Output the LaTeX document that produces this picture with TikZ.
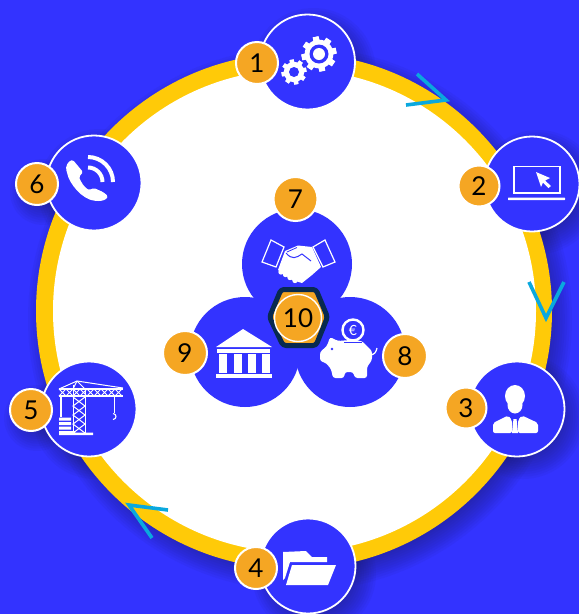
\documentclass[tikz,border=0pt]{standalone}
\usepackage{fontspec}
\setmainfont{Lato}
\definecolor{bgblue}{RGB}{51,51,255}
\definecolor{ringy}{RGB}{255,202,8}
\definecolor{badgeo}{RGB}{245,166,35}
\definecolor{navy}{RGB}{8,42,80}
\definecolor{chev}{RGB}{10,168,222}
\definecolor{shad}{RGB}{25,25,90}
\tikzset{
  bigdisc/.style={circle,fill=bgblue,draw=white,line width=1.8pt,minimum size=95pt,inner sep=0pt},
  middisc/.style={circle,fill=bgblue,minimum size=110pt,inner sep=0pt},
  badge/.style={circle,fill=badgeo,draw=white,line width=2pt,minimum size=42pt,inner sep=0pt,font=\fontsize{26}{26}\selectfont,text=black},
  chevron/.style={draw=chev,line width=3.6pt,line join=miter},
  icoline/.style={draw=white,line width=1.3pt},
}
\newcommand{\softshadow}[3]{%
  \foreach \k in {0,...,11}{\fill[shad,opacity=0.05] (#1+6,#2+8) circle ({#3+14-\k*2.4});}}
\newcommand{\geargfx}[4]{%
  \foreach \a in {0,45,...,315}{\fill[white,rotate around={\a+11:(#1,#2)}] (#1-#3*0.17,#2-#3) rectangle (#1+#3*0.17,#2+#3);}
  \fill[white] (#1,#2) circle ({#3*0.82});
  \fill[bgblue] (#1,#2) circle (#4);}
\begin{document}
\begin{tikzpicture}[x=1pt,y=-1pt]
\useasboundingbox (0,0) rectangle (579,614);
\clip (0,0) rectangle (579,614);
\fill[bgblue] (0,0) rectangle (579,614);
% shadows on the background
\softshadow{294}{311}{258}
\softshadow{307.5}{62}{48}
\softshadow{532}{184}{48}
\softshadow{517}{409}{48}
\softshadow{308}{566}{48}
\softshadow{89}{409}{48}
\softshadow{94}{183}{48}
\softshadow{31}{410}{19}
\softshadow{37}{184}{19}
% ring
\node[circle,fill=ringy,minimum size=516pt,inner sep=0pt] (ring) at (294,311) {};
\node[circle,fill=white,minimum size=483pt,inner sep=0pt] (inner) at (294.5,311) {};
% chevrons
\coordinate (c1a) at (417,74); \coordinate (c1b) at (446,100); \coordinate (c1c) at (406,105);
\coordinate (c2a) at (529,282); \coordinate (c2b) at (546,318); \coordinate (c2c) at (564,282);
\coordinate (c3a) at (168,510); \coordinate (c3b) at (129,505); \coordinate (c3c) at (152,538);
\draw[chevron] (c1a) -- (c1b) -- (c1c);
\draw[chevron] (c2a) -- (c2b) -- (c2c);
\draw[chevron] (c3a) -- (c3b) -- (c3c);
% big discs
\node[bigdisc] (d1) at (307.5,62) {};
\node[bigdisc] (d2) at (532,184) {};
\node[bigdisc] (d3) at (517,409) {};
\node[bigdisc] (d4) at (308,566) {};
\node[bigdisc] (d5) at (89,409) {};
\node[bigdisc] (d6) at (94,183) {};
% central discs
\node[middisc] (d7) at (297,264) {};
\node[middisc] (d9) at (245,352) {};
\node[middisc] (d8) at (350,352) {};
% gears
\geargfx{319}{54}{17.5}{9.5}
\fill[white] (319,54) circle (6);
\geargfx{294}{72}{12.5}{5}
% laptop
\draw[icoline] (514,166.5) rectangle (560,193);
\fill[white,rounded corners=0.5pt] (508,197.5) rectangle (565,200);
\fill[white] (536,172) -- (550,178) -- (545,180.5) -- (551,186) -- (548.5,188) -- (543,182.5) -- (541,187) -- cycle;
% person
\fill[white] (515,396) ellipse (10 and 11);
\fill[white] (515,405) ellipse (7.5 and 8.5);
\fill[white,rounded corners=2pt] (493,433) -- (493,423) -- (508,415.5) -- (512,420) -- (512,433) -- cycle;
\fill[white,rounded corners=2pt] (538,433) -- (538,423) -- (522,415.5) -- (518,420) -- (518,433) -- cycle;
\fill[white] (513.5,419) -- (516.5,419) -- (517,423) -- (518,433) -- (512,433) -- (513,423) -- cycle;
% folder
\fill[white] (283,580) -- (283,552) -- (306,551) -- (312,557) -- (327,557) -- (327,562) -- (290,562) -- (285,578) -- cycle;
\fill[white] (292,565) -- (336,565) -- (328,585) -- (286,585) -- cycle;
% crane
\draw[white,line width=1pt] (73,433) -- (73,385) (85,433) -- (85,389);
\draw[white,line width=1pt] (73,397) -- (85,406) -- (73,415) -- (85,424) -- (73,433) (85,397) -- (73,406) -- (85,415) -- (73,424) -- (85,433);
\draw[white,line width=1.1pt] (59,389) -- (123,389) (59,396) -- (123,396);
\foreach \q in {59,66,...,116}{\draw[white,line width=1pt] (\q,389) -- (\q+7,396) (\q+7,389) -- (\q,396);}
\draw[white,line width=1pt] (59,389) -- (77,381) -- (123,388);
\draw[white,line width=1pt] (77,381) -- (85,389) (77,381) -- (73,389);
\draw[white,line width=1.1pt] (61,396) -- (61,417);
\draw[white,line width=0.9pt] (114,396) -- (114,413);
\draw[white,line width=1.1pt] (113,413.5) .. controls (117,414) and (117,419) .. (113,419.5);
\fill[white] (59,417.5) rectangle (71,420.5) (59,422) rectangle (71,425) (59,426.5) rectangle (71,429.5);
\fill[white] (59,431) rectangle (75,435) (75,432.5) rectangle (93,435);
% phone
\fill[white,rounded corners=1.5pt] (73,160) .. controls (68,161) and (65,167) .. (67,172) .. controls (69,183) and (82,200) .. (97,201) .. controls (102,201) and (106,200) .. (108,196) -- (103,192) -- (94,188) -- (89,190) .. controls (84,187) and (81,182) .. (79,177) -- (83,172) -- cycle;
\draw[white,line width=4pt] (88,157) arc[start angle=-90,end angle=0,radius=25];
\draw[white,line width=4pt] (88,167.5) arc[start angle=-90,end angle=0,radius=14.5];
% handshake
\draw[white,line width=1.2pt] (271,240) -- (284,247) -- (276,267) -- (262,262) -- cycle;
\draw[white,line width=1.2pt] (325,240) -- (335,262) -- (323,267) -- (313,247) -- cycle;
\fill[white] (285,251) -- (298,245.5) -- (312,247) -- (321,267) -- (312,275) -- (302,283) -- (292,280) -- (278,270) -- cycle;
\foreach \fx/\fy in {281/272,285.5/274.5,290/277.5,295/280.5}{\fill[white] (\fx,\fy) circle (2.7);}
\draw[bgblue,line width=1pt] (286,253) .. controls (292,260) and (296,258) .. (302,254) -- (311,261);
\draw[bgblue,line width=0.8pt] (297,247.5) -- (287,252);
% bank
\fill[white] (243,329) -- (272,347) -- (216,347) -- cycle;
\fill[white] (217,349) rectangle (270,353);
\fill[white] (219,354) rectangle (227,373);
\fill[white] (233.5,354) rectangle (241.5,373);
\fill[white] (248,354) rectangle (256,373);
\fill[white] (262,354) rectangle (270,373);
\fill[white] (216,373.5) rectangle (272,378);
% piggy
\fill[white,rounded corners=2.5pt] (320,352) -- (327,346) -- (330,337) -- (338,341) -- (350,340) -- (362,341) -- (372,351) -- (372,360) -- (367,367) -- (367,378) -- (355,378) -- (353,372) -- (345,372) -- (344,378) -- (333,378) -- (331,369) -- (326,363) -- (320,361) -- cycle;
\draw[white,line width=1.2pt] (371,355) .. controls (375,354) and (376,352) .. (377,348);
\fill[bgblue] (332,349) circle (1.3);
\draw[bgblue,line width=1.2pt] (344,342.5) -- (362,342.5);
\draw[white,line width=2.4pt] (353,330) circle (10.5);
\node[text=white,font=\fontsize{14}{14}\selectfont,inner sep=0pt] (euro) at (353,330) {€};
% centre
\fill[badgeo,draw=navy,line width=5pt,line join=round,rounded corners=3pt] (281,289.5) -- (316,289.5) -- (327.5,317) -- (316,345.5) -- (283,345.5) -- (269.5,317) -- cycle;
\node[badge,line width=1.4pt,minimum size=47pt] (b10) at (298,318) {10};
% badges
\node[badge] (b1) at (257,63) {1};
\node[badge,minimum size=41pt] (b2) at (479,186) {2};
\node[badge,minimum size=41pt] (b3) at (466,408) {3};
\node[badge] (b4) at (256,568) {4};
\node[badge] (b5) at (31,410) {5};
\node[badge] (b6) at (37,184) {6};
\node[badge,minimum size=44pt] (b7) at (295.5,199) {7};
\node[badge,minimum size=44pt] (b8) at (405,356) {8};
\node[badge,minimum size=44pt] (b9) at (185,353) {9};
\end{tikzpicture}
\end{document}
